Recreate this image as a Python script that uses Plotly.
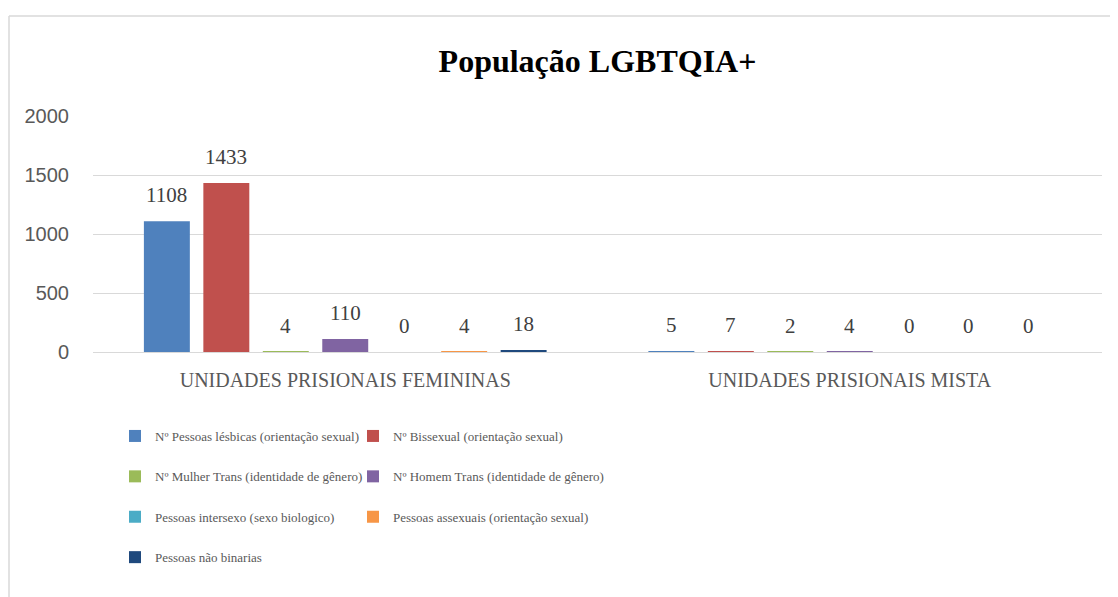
import plotly.graph_objects as go

# dados
categorias = ["UNIDADES PRISIONAIS FEMININAS", "UNIDADES PRISIONAIS MISTA"]
series = [
    "Nº Pessoas lésbicas (orientação sexual)",
    "Nº Bissexual (orientação sexual)",
    "Nº Mulher Trans (identidade de gênero)",
    "Nº Homem Trans (identidade de gênero)",
    "Pessoas intersexo (sexo biologico)",
    "Pessoas assexuais (orientação sexual)",
    "Pessoas não binarias",
]
femininas = [1108, 1433, 4, 110, 0, 4, 18]
mista = [5, 7, 2, 4, 0, 0, 0]
cores = ["#4F81BD", "#C0504D", "#9BBB59", "#8064A2", "#4BACC6", "#F79646", "#1F497D"]
y_ticks = [0, 500, 1000, 1500, 2000]

SERIF = "Liberation Serif, DejaVu Serif, serif"
SANS = "Liberation Sans, Arial, sans-serif"
CINZA = "#595959"

# a página html desloca o gráfico 8px (margem do body)
OFF = 8
W, H = 1118, 597
M_L = 93 - OFF
M_R = W - (1102 - OFF)
M_T = 116 - OFF
M_B = H - (352 - OFF)
BARGAP, GROUPGAP = 0.175, 0.227

fig = go.Figure()

for i, nome in enumerate(series):
    fig.add_trace(go.Bar(
        x=categorias,
        y=[femininas[i], mista[i]],
        name=nome,
        marker_color=cores[i],
        marker_line_width=0,
        legendgroup=f"g{i}",
        legend="legend" if i % 2 == 0 else "legend2",
        hoverinfo="name+y",
    ))

# rótulos de valor acima das barras
plot_w = W - M_L - M_R
plot_h = H - M_T - M_B
cat_px = plot_w / 2
slot_px = cat_px * (1 - BARGAP) / len(series)
for i in range(len(series)):
    for c, vals in enumerate([femininas, mista]):
        fig.add_annotation(
            x=categorias[c], y=vals[i], xref="x", yref="y",
            text=str(vals[i]), showarrow=False,
            xshift=(i - (len(series) - 1) / 2) * slot_px,
            yshift=26, yanchor="middle",
            font=dict(family=SERIF, size=21, color="#404040"),
        )

# moldura (esquerda e topo)
def px_x(x):
    return (x - OFF - M_L) / plot_w

def px_y(y):
    return (H - M_B - (y - OFF)) / plot_h

fig.add_shape(type="line", xref="paper", yref="paper", x0=px_x(9), x1=px_x(9),
              y0=px_y(16), y1=px_y(620), line=dict(color="#d9d9d9", width=1.5))
fig.add_shape(type="line", xref="paper", yref="paper", x0=px_x(9), x1=px_x(1130),
              y0=px_y(16), y1=px_y(16), line=dict(color="#d9d9d9", width=1.5))

leg_font = dict(family=SERIF, size=13, color=CINZA)
fig.update_layout(
    width=W, height=H,
    margin=dict(l=M_L, r=M_R, t=M_T, b=M_B),
    paper_bgcolor="white", plot_bgcolor="white",
    barmode="group", bargap=BARGAP, bargroupgap=GROUPGAP,
    title=dict(text="<b>População LGBTQIA+</b>", x=0.5, xref="paper", xanchor="center",
               y=1 - 53 / H, yref="container", yanchor="middle",
               font=dict(family=SERIF, size=32, color="black")),
    xaxis=dict(range=[-0.5, 1.5], showgrid=False, showline=False, ticks="",
               ticklabelstandoff=14,
               tickfont=dict(family=SERIF, size=20, color=CINZA)),
    yaxis=dict(range=[0, 2000], tickvals=y_ticks, showgrid=True, gridcolor="#d9d9d9",
               gridwidth=1, zeroline=True, zerolinecolor="#d9d9d9", zerolinewidth=1,
               showline=False, ticks="", ticklabelstandoff=23,
               tickfont=dict(family=SANS, size=20, color=CINZA)),
    legend=dict(x=px_x(115), xanchor="left", y=px_y(421),
                yanchor="top", orientation="v", tracegroupgap=20.5, font=leg_font,
                bgcolor="rgba(0,0,0,0)", itemclick=False),
    legend2=dict(x=px_x(353), xanchor="left", y=px_y(421),
                 yanchor="top", orientation="v", tracegroupgap=20.5, font=leg_font,
                 bgcolor="rgba(0,0,0,0)", itemclick=False),
)

fig.write_html("out.html")
